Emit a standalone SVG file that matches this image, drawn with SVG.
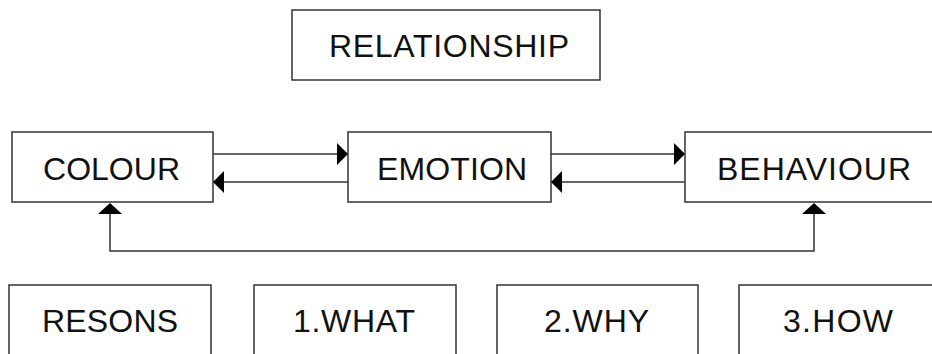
<svg xmlns="http://www.w3.org/2000/svg" width="932" height="354" viewBox="0 0 932 354">
<defs>
<style>
.box{fill:#fff;stroke:#333;stroke-width:1.5}
.lbl{font-family:"Liberation Sans",Arial,sans-serif;font-size:32px;fill:#111;text-anchor:middle}
.con{fill:none;stroke:#333;stroke-width:1.5}
.head{fill:#000}
</style>
</defs>
<rect width="932" height="354" fill="#fff"/>
<g id="relationship"><rect class="box" x="292" y="10" width="308" height="70"/><text class="lbl" x="449" y="57" textLength="240" lengthAdjust="spacing">RELATIONSHIP</text></g>
<g id="colour"><rect class="box" x="12" y="132" width="201" height="70"/><text class="lbl" x="111.5" y="180" textLength="137" lengthAdjust="spacing">COLOUR</text></g>
<g id="emotion"><rect class="box" x="348" y="132" width="203" height="70"/><text class="lbl" x="452" y="180" textLength="150" lengthAdjust="spacing">EMOTION</text></g>
<g id="behaviour"><rect class="box" x="685" y="132" width="260" height="70"/><text class="lbl" x="814" y="180" textLength="194" lengthAdjust="spacing">BEHAVIOUR</text></g>
<g id="resons"><rect class="box" x="9" y="285" width="202" height="90"/><text class="lbl" x="110" y="332" textLength="136" lengthAdjust="spacing">RESONS</text></g>
<g id="what"><rect class="box" x="254" y="285" width="202" height="90"/><text class="lbl" x="354" y="332" textLength="122" lengthAdjust="spacing">1.WHAT</text></g>
<g id="why"><rect class="box" x="497" y="285" width="201" height="90"/><text class="lbl" x="596.5" y="332" textLength="105" lengthAdjust="spacing">2.WHY</text></g>
<g id="how"><rect class="box" x="739" y="285" width="220" height="90"/><text class="lbl" x="838" y="332" textLength="110" lengthAdjust="spacing">3.HOW</text></g>
<g id="connectors">
<line class="con" x1="213" y1="154" x2="340" y2="154"/>
<polygon class="head" points="348,154 337,143 337,165"/>
<line class="con" x1="348" y1="182" x2="220" y2="182"/>
<polygon class="head" points="213,182 224,171 224,193"/>
<line class="con" x1="551" y1="154" x2="678" y2="154"/>
<polygon class="head" points="685,154 674,143 674,165"/>
<line class="con" x1="685" y1="182" x2="558" y2="182"/>
<polygon class="head" points="551,182 562,171 562,193"/>
<polyline class="con" points="110,210 110,251 814,251 814,210"/>
<polygon class="head" points="110,203 98,214 122,214"/>
<polygon class="head" points="814,203 802,214 826,214"/>
</g>
</svg>
